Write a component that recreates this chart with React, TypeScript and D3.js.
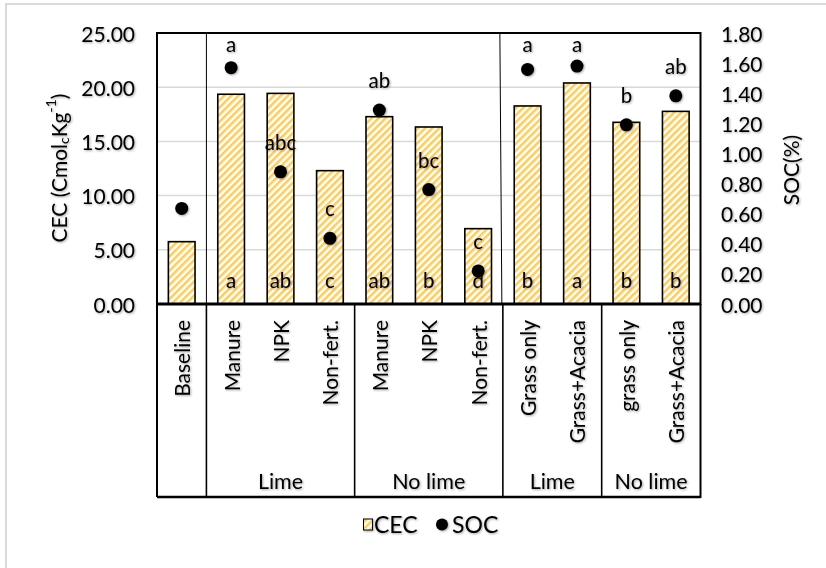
import * as d3 from "d3";

// categories, left to right
const treatments = ["Baseline", "Manure", "NPK", "Non-fert.", "Manure", "NPK", "Non-fert.", "Grass only", "Grass+Acacia", "grass only", "Grass+Acacia"];
const cec = [5.75, 19.35, 19.43, 12.3, 17.28, 16.33, 6.95, 18.27, 20.39, 16.76, 17.77];
const soc = [0.635, 1.57, 0.878, 0.436, 1.288, 0.76, 0.22, 1.558, 1.58, 1.19, 1.383];
const cecLetters = ["", "a", "ab", "c", "ab", "b", "d", "b", "a", "b", "b"];
const socLetters = ["", "a", "abc", "c", "ab", "bc", "c", "a", "a", "b", "ab"];
// group rows under the labels: [first index, last index, label]
const groups: [number, number, string][] = [[1, 3, "Lime"], [4, 6, "No lime"], [7, 8, "Lime"], [9, 10, "No lime"]];
const leftTicks = [0, 5, 10, 15, 20, 25];
const rightTicks = [0, 0.2, 0.4, 0.6, 0.8, 1.0, 1.2, 1.4, 1.6, 1.8];

const W = 826;
const H = 568;
const left = 157;
const right = 700.5;
const top = 33;
const bottom = 304;
const tableBottom = 497;
const font = "Lato, 'Open Sans', sans-serif";
const hatch = "#FFCC57";

export default function App() {
  const idx = d3.range(treatments.length);
  const x = d3.scaleBand<number>().domain(idx).range([left, right]).paddingInner(0).paddingOuter(0);
  const bw = x.bandwidth();
  const barW = bw * 0.54;
  const yL = d3.scaleLinear().domain([0, 25]).range([bottom, top]);
  const yR = d3.scaleLinear().domain([0, 1.8]).range([bottom, top]);
  const edge = (i: number) => x(i)!;

  return (
    <svg width={W} height={H} viewBox={`0 0 ${W} ${H}`} style={{ position: "absolute", left: 0, top: 0, background: "#fff" }}>
      <defs>
        <pattern id="hatch" patternUnits="userSpaceOnUse" width="5" height="5" patternTransform="rotate(45)">
          <rect width="5" height="5" fill="#fff" />
          <rect width="2.5" height="5" fill={hatch} />
        </pattern>
        <filter id="sh" x="-10%" y="-10%" width="130%" height="130%">
          <feDropShadow dx="1" dy="1" stdDeviation="0.8" floodColor="#000" floodOpacity="0.35" />
        </filter>
      </defs>
      <rect x={6} y={4} width={W} height={H} fill="#fff" stroke="#d9d9d9" strokeWidth={2} />

      {/* gridlines */}
      {leftTicks.slice(1).map((t) => (
        <line key={t} x1={left} x2={right} y1={yL(t)} y2={yL(t)} stroke="#d9d9d9" strokeWidth={1.5} />
      ))}

      {/* bars */}
      {cec.map((v, i) => (
        <rect key={i} x={x(i)! + (bw - barW) / 2} y={yL(v)} width={barW} height={bottom - yL(v)}
          fill="url(#hatch)" stroke="#000" strokeWidth={1.6} />
      ))}

      {/* group separators inside plot */}
      <line x1={edge(1)} x2={edge(1)} y1={top} y2={bottom} stroke="#000" strokeWidth={1} />
      <line x1={edge(7) - 3} x2={edge(7) - 1} y1={top} y2={bottom} stroke="#000" strokeWidth={1} />

      {/* plot frame */}
      <rect x={left} y={top} width={right - left} height={bottom - top} fill="none" stroke="#000" strokeWidth={2} />

      <g fontFamily={font} fill="#000" filter="url(#sh)">
        {/* SOC dots */}
        {soc.map((v, i) => (
          <circle key={i} cx={x(i)! + bw / 2} cy={yR(v)} r={6.5} fill="#000" />
        ))}

        {/* letters */}
        {socLetters.map((l, i) => l && (
          <text key={"s" + i} x={x(i)! + bw / 2} y={Math.max(yR(soc[i]) - 30, 44)} fontSize={20.5}
            textAnchor="middle" dominantBaseline="central">{l}</text>
        ))}
        {cecLetters.map((l, i) => l && (
          <text key={"c" + i} x={x(i)! + bw / 2} y={280} fontSize={20.5}
            textAnchor="middle" dominantBaseline="central">{l}</text>
        ))}

        {/* left axis */}
        {leftTicks.map((t) => (
          <text key={t} x={135} y={yL(t)} fontSize={21} textAnchor="end" dominantBaseline="central">{d3.format(".2f")(t)}</text>
        ))}
        <text transform={`translate(58,168) rotate(-90)`} fontSize={21} textAnchor="middle" dominantBaseline="central">
          CEC (Cmol<tspan fontSize={14} dy={5}>c</tspan><tspan dy={-5}>Kg</tspan><tspan fontSize={14} dy={-8}>-1</tspan><tspan dy={8}>)</tspan>
        </text>

        {/* right axis */}
        {rightTicks.map((t) => (
          <text key={t} x={721} y={yR(t)} fontSize={21} textAnchor="start" dominantBaseline="central">{d3.format(".2f")(t)}</text>
        ))}
        <text transform={`translate(790,170) rotate(-90)`} fontSize={21} textAnchor="middle" dominantBaseline="central">SOC(%)</text>

        {/* category labels */}
        {treatments.map((t, i) => (
          <text key={"t" + i} transform={`translate(${x(i)! + bw / 2},320) rotate(-90)`} fontSize={21}
            textAnchor="end" dominantBaseline="central">{t}</text>
        ))}
        {groups.map(([a, b, g], i) => (
          <text key={"g" + i} x={(edge(a) + edge(b) + bw) / 2} y={481} fontSize={21.5} textAnchor="middle" dominantBaseline="central">{g}</text>
        ))}

        {/* legend */}
        <rect x={363.5} y={519} width={9} height={11} fill="url(#hatch)" stroke="#000" strokeWidth={1} />
        <text x={374} y={524} fontSize={23} dominantBaseline="central">CEC</text>
        <circle cx={442} cy={524.5} r={6} fill="#000" />
        <text x={452} y={524} fontSize={23} dominantBaseline="central">SOC</text>
      </g>

      {/* label table */}
      <g stroke="#000" fill="none">
        <line x1={left} x2={right} y1={bottom} y2={bottom} strokeWidth={3} />
        <line x1={left} x2={right} y1={tableBottom} y2={tableBottom} strokeWidth={2.5} />
        <line x1={left} x2={left} y1={bottom} y2={tableBottom} strokeWidth={2} />
        <line x1={right} x2={right} y1={bottom} y2={tableBottom + 1} strokeWidth={2} />
        {[1, 4, 7, 9].map((i) => (
          <line key={i} x1={edge(i)} x2={edge(i)} y1={bottom} y2={tableBottom} strokeWidth={1.6} />
        ))}
      </g>
    </svg>
  );
}
